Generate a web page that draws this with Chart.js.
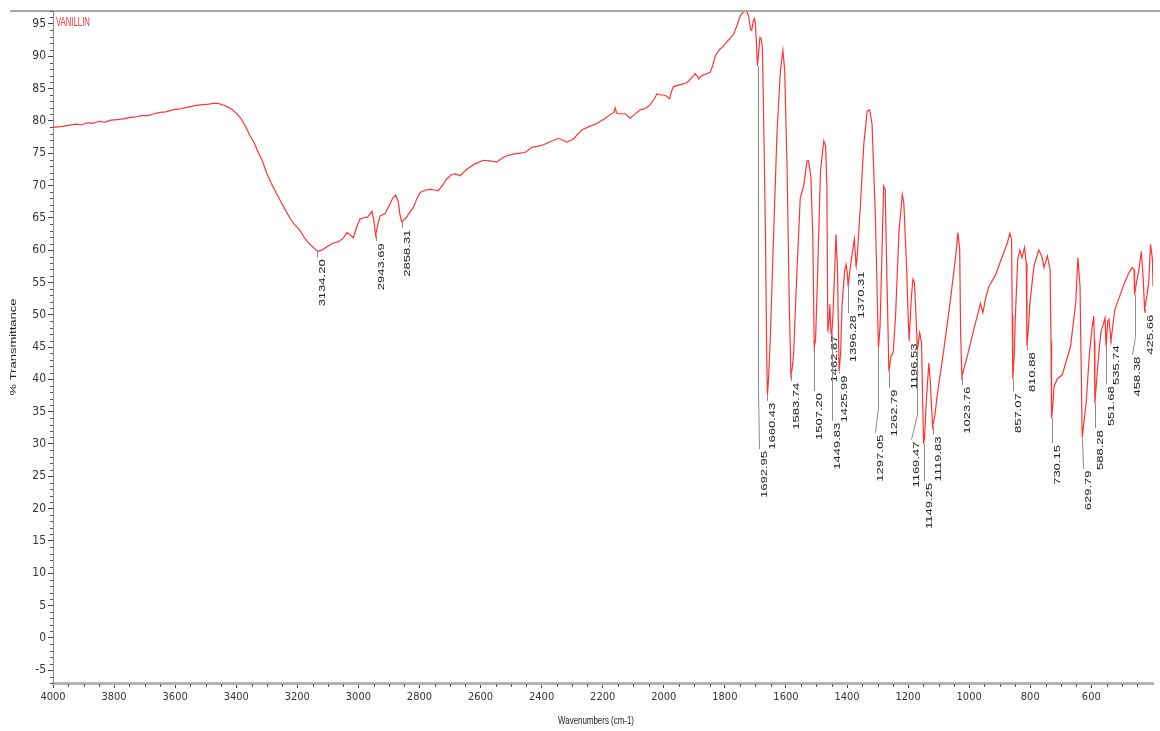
<!DOCTYPE html>
<html>
<head>
<meta charset="utf-8">
<title>Vanillin IR spectrum</title>
<script src="https://cdn.jsdelivr.net/npm/chart.js@4/dist/chart.umd.min.js"></script>
<style>
  html, body { margin: 0; padding: 0; background: #fff; }
  canvas { display: block; }
</style>
</head>
<body>
<canvas id="irChart" width="1160" height="731"></canvas>
<script>
// SPECTRUM DATA (wavenumber in cm-1, % transmittance)
const wavenumbers = [
  4000, 3975, 3950, 3925, 3905, 3890, 3870, 3850, 3830, 3810, 3790, 3770, 3750, 3730, 3710, 3690,
  3670, 3650, 3630, 3610, 3590, 3570, 3550, 3530, 3510, 3490, 3475, 3460, 3445, 3430, 3415, 3400,
  3385, 3370, 3355, 3340, 3328, 3315, 3301, 3285, 3270, 3255, 3240, 3225, 3210, 3191, 3175, 3159,
  3145, 3134.20, 3120, 3100, 3082, 3065, 3050, 3038, 3028, 3017, 3005, 2995, 2982, 2970, 2956, 2950,
  2943.69, 2937, 2929, 2913, 2900, 2888, 2878, 2870, 2864, 2858.31, 2850, 2842, 2830, 2820, 2808, 2798,
  2780, 2765, 2750, 2738, 2725, 2711, 2695, 2683, 2667, 2645, 2620, 2591, 2570, 2547, 2530, 2514,
  2490, 2470, 2454, 2432, 2410, 2394, 2370, 2345, 2330, 2317, 2296, 2280, 2268, 2245, 2219, 2195,
  2175, 2163, 2159, 2154, 2148, 2126, 2110, 2095, 2077, 2060, 2044, 2030, 2022, 2010, 2000, 1990,
  1981, 1975, 1968, 1945, 1924, 1910, 1897, 1890, 1886, 1878, 1870, 1848, 1840, 1831, 1818, 1804,
  1790, 1771, 1760, 1749, 1738, 1728, 1722, 1716, 1712, 1707, 1703, 1700, 1697, 1692.95, 1689, 1685,
  1681, 1677, 1673, 1667, 1663, 1660.43, 1657, 1651, 1640, 1629, 1618, 1610, 1604, 1596, 1589, 1583.74,
  1580, 1575, 1564, 1553, 1542, 1531, 1526, 1518, 1512, 1507.20, 1503, 1496, 1487, 1476, 1470, 1466,
  1462.87, 1459, 1456, 1453, 1449.83, 1446, 1441, 1436, 1431, 1425.99, 1421, 1416, 1408, 1403, 1399, 1396.28,
  1390, 1385, 1376, 1372, 1370.31, 1365, 1356, 1345, 1334, 1326, 1318, 1307, 1297.05, 1292, 1288, 1280,
  1275, 1269, 1262.79, 1256, 1249, 1241, 1230, 1219, 1214, 1205, 1200, 1196.53, 1189, 1184, 1179, 1173,
  1169.47, 1162, 1156, 1152, 1149.25, 1146, 1140, 1132, 1127, 1119.83, 1112, 1105, 1083, 1061, 1044, 1037,
  1031, 1028, 1023.76, 1018, 1006, 985, 963, 955, 946, 935, 913, 897, 875, 867, 861, 859,
  857.07, 852, 849, 841, 834, 827, 819, 813, 810.88, 806, 801, 788, 772, 762, 755, 744,
  735, 732, 730.15, 726, 722, 711, 695, 668, 651, 644, 637, 633, 629.79, 625, 617, 606,
  597, 592, 590, 588.28, 584, 577, 569, 555, 551.68, 546, 542, 535.74, 523, 509, 493, 477,
  466, 460, 458.38, 452, 444, 436, 430, 425.66, 418, 412, 406, 400, 398
];
const transmittance = [
  79.0, 79.1, 79.3, 79.5, 79.4, 79.7, 79.6, 79.9, 79.8, 80.1, 80.2, 80.3, 80.5, 80.6, 80.8, 80.8,
  81.1, 81.3, 81.4, 81.7, 81.8, 82.0, 82.2, 82.4, 82.5, 82.6, 82.7, 82.7, 82.5, 82.2, 81.8, 81.2,
  80.4, 79.2, 77.7, 76.5, 75.1, 73.9, 72.0, 70.3, 68.9, 67.6, 66.3, 65.0, 64.0, 63.0, 61.8, 60.9,
  60.3, 59.8, 60.0, 60.6, 61.1, 61.3, 61.8, 62.7, 62.4, 61.9, 63.6, 64.8, 65.0, 65.1, 66.0, 64.8,
  62.3, 63.8, 65.3, 65.6, 66.8, 68.0, 68.5, 67.6, 65.5, 64.4, 64.7, 65.1, 66.0, 66.6, 68.0, 68.9,
  69.3, 69.4, 69.3, 69.2, 70.0, 71.0, 71.7, 71.8, 71.5, 72.5, 73.3, 73.9, 73.8, 73.6, 74.2, 74.6,
  74.9, 75.0, 75.1, 75.9, 76.1, 76.3, 76.8, 77.3, 77.0, 76.7, 77.2, 78.0, 78.6, 79.1, 79.6, 80.3,
  81.0, 81.3, 82.0, 81.2, 81.1, 81.1, 80.4, 81.0, 81.7, 81.9, 82.5, 83.5, 84.2, 84.0, 84.0, 83.8,
  83.4, 84.5, 85.3, 85.6, 85.9, 86.6, 87.3, 86.9, 86.5, 86.9, 87.1, 87.5, 88.5, 90.1, 91.0, 91.6,
  92.4, 93.4, 94.8, 96.3, 96.9, 96.9, 96.2, 94.2, 94.0, 95.5, 95.8, 95.0, 92.4, 88.5, 90.8, 92.9,
  92.7, 91.4, 80.5, 62.4, 44.0, 37.6, 40.0, 46.5, 62.9, 78.4, 87.8, 90.9, 87.8, 72.2, 51.6, 40.7,
  41.5, 43.8, 56.7, 68.1, 69.9, 73.8, 73.8, 71.2, 62.0, 45.0, 46.0, 56.7, 72.2, 76.9, 76.0, 70.0,
  47.4, 49.0, 51.6, 47.5, 46.9, 50.0, 56.0, 62.4, 56.7, 41.2, 44.0, 51.6, 56.7, 57.8, 56.5, 54.4,
  57.0, 58.8, 61.7, 59.0, 57.3, 60.0, 67.1, 76.4, 81.5, 81.7, 79.5, 65.0, 44.9, 48.0, 54.9, 69.9,
  69.4, 54.9, 41.2, 43.6, 44.1, 49.8, 62.7, 68.6, 67.3, 57.5, 50.0, 46.0, 52.9, 55.5, 54.9, 48.7,
  44.6, 47.2, 45.6, 36.0, 30.0, 31.0, 36.9, 42.5, 39.4, 32.7, 34.5, 37.4, 44.6, 52.4, 59.1, 62.7,
  60.1, 47.2, 40.4, 41.5, 43.6, 47.7, 51.7, 50.3, 52.6, 54.4, 56.2, 58.3, 61.1, 62.6, 61.7, 50.0,
  40.0, 44.0, 49.3, 58.6, 60.0, 58.8, 60.4, 58.0, 45.1, 48.0, 51.8, 57.5, 60.0, 59.0, 57.3, 59.1,
  57.0, 46.0, 34.0, 36.0, 38.9, 40.1, 40.7, 45.1, 51.8, 58.8, 54.4, 41.5, 31.0, 33.0, 36.3, 44.1,
  48.2, 49.8, 46.0, 36.3, 39.0, 43.1, 47.2, 49.5, 45.1, 49.0, 49.3, 45.9, 50.8, 52.6, 54.7, 56.5,
  57.3, 57.0, 53.1, 55.0, 57.0, 59.8, 55.5, 50.9, 52.9, 55.0, 60.9, 58.6, 54.4
];

// labelled absorption bands and the % transmittance at the tip of each leader
const peakWavenumbers = [
  3134.20, 2943.69, 2858.31, 1692.95, 1660.43, 1583.74, 1507.20, 1462.87, 1449.83, 1425.99,
  1396.28, 1370.31, 1297.05, 1262.79, 1196.53, 1169.47, 1149.25, 1119.83, 1023.76, 857.07,
  810.88, 730.15, 629.79, 588.28, 551.68, 535.74, 458.38, 425.66
];
const peakTransmittance = [
  59.8, 62.3, 64.4, 88.5, 37.6, 40.7, 45.0, 47.4, 46.9, 41.2,
  54.4, 57.3, 44.9, 41.2, 46.0, 44.6, 30.0, 32.7, 40.4, 40.0,
  45.1, 34.0, 31.0, 36.3, 45.1, 45.9, 53.1, 50.9
];

const xTicks = [4000, 3800, 3600, 3400, 3200, 3000, 2800, 2600, 2400, 2200, 2000, 1800, 1600, 1400, 1200, 1000, 800, 600];
const yTicks = [-5, 0, 5, 10, 15, 20, 25, 30, 35, 40, 45, 50, 55, 60, 65, 70, 75, 80, 85, 90, 95];

// leader line shape for each label: [drop px, sideways shift px, slanted part px]
const leaderLayout = [
  [6, 0, 0], [6, 0, 0], [6, 0, 0], [383, 1, 60], [6, 0, 0], [6, 0, 0], [44, 0, 0], [2, 1, 2], [86, 0, 0], [2, 0, 0],
  [27, 0, 0], [2, 0, 0], [85, -3, 25], [16, 0, 0], [1, 0, 0], [90, -6, 25], [37, 0, 0], [8, 0, 0], [8, 0, 0], [12, 0, 0],
  [4, 0, 0], [25, 0, 0], [31, 1, 30], [25, 0, 0], [38, 0, 0], [2, 0, 0], [60, -3, 18], [4, 0, 0]
];

const SQUEEZE = 0.72;
const yTickFont = { family: "'Liberation Sans Narrow', 'DejaVu Sans Condensed', Arial, sans-serif", size: 12 };
const xTickFont = { family: "'Liberation Sans Narrow', 'DejaVu Sans Condensed', Arial, sans-serif", size: 11 };

function squeezed(ctx, text, x, y, sx, angle) {
  ctx.save();
  ctx.translate(x, y);
  if (angle) {
    ctx.rotate(angle);
    ctx.scale(1, sx);
  } else {
    ctx.scale(sx, 1);
  }
  ctx.fillText(text, 0, 0);
  ctx.restore();
}

// frame line, minor ticks, titles and the sample name
const framePlugin = {
  id: 'frame',
  afterDraw(chart) {
    const { ctx, chartArea: a, scales: { x, y } } = chart;
    ctx.save();
    ctx.strokeStyle = '#a8a8a8';
    ctx.lineWidth = 2;
    ctx.beginPath();
    ctx.moveTo(10, a.top);
    ctx.lineTo(chart.width, a.top);
    ctx.stroke();

    ctx.strokeStyle = '#555';
    ctx.lineWidth = 1;
    ctx.beginPath();
    for (let v = -7; v <= 97; v++) {
      if (v % 5 === 0) continue;
      const py = Math.round(y.getPixelForValue(v)) + 0.5;
      ctx.moveTo(a.left - 3, py);
      ctx.lineTo(a.left, py);
    }
    for (let v = 400; v <= 4000; v += 50) {
      if (v % 200 === 0) continue;
      const px = Math.round(x.getPixelForValue(v)) + 0.5;
      ctx.moveTo(px, a.bottom + 1);
      ctx.lineTo(px, a.bottom + 4);
    }
    ctx.stroke();

    ctx.fillStyle = '#222';
    ctx.font = "13px 'Liberation Sans', Arial, sans-serif";
    ctx.textAlign = 'center';
    ctx.textBaseline = 'middle';
    squeezed(ctx, '% Transmittance', 13, (a.top + a.bottom) / 2, SQUEEZE, -Math.PI / 2);
    ctx.font = "11px 'Liberation Sans', Arial, sans-serif";
    squeezed(ctx, 'Wavenumbers (cm-1)', 596, 721, SQUEEZE, 0);

    ctx.fillStyle = '#ff3030';
    ctx.font = "12.5px 'Liberation Sans', Arial, sans-serif";
    ctx.textAlign = 'left';
    squeezed(ctx, 'VANILLIN', a.left + 3, 23, 0.62, 0);
    ctx.restore();
  }
};

// peak position labels hanging below the bands
const peakLabelPlugin = {
  id: 'peakLabels',
  afterDatasetsDraw(chart) {
    const { ctx, scales: { x, y } } = chart;
    ctx.save();
    ctx.strokeStyle = '#8a8a8a';
    ctx.lineWidth = 1;
    ctx.fillStyle = '#222';
    ctx.font = "13px 'Liberation Sans', Arial, sans-serif";
    ctx.textAlign = 'right';
    ctx.textBaseline = 'middle';
    peakWavenumbers.forEach((wn, i) => {
      const [drop, shift, slant] = leaderLayout[i];
      const px = Math.round(x.getPixelForValue(wn)) + 0.5;
      const py = y.getPixelForValue(peakTransmittance[i]);
      const ex = px + shift, ey = py + drop;
      ctx.beginPath();
      ctx.moveTo(px, py);
      ctx.lineTo(px, ey - slant);
      ctx.lineTo(ex, ey);
      ctx.stroke();
      squeezed(ctx, wn.toFixed(2), ex + 5, ey + 2, SQUEEZE, -Math.PI / 2);
    });
    ctx.restore();
  }
};

const ctx = document.getElementById('irChart').getContext('2d');
const irChart = new Chart(ctx, {
  type: 'line',
  data: {
    datasets: [{
      label: 'VANILLIN',
      data: wavenumbers.map((w, i) => ({ x: w, y: transmittance[i] })),
      borderColor: 'rgba(255, 0, 0, 0.8)',
      borderWidth: 1.2,
      pointRadius: 0,
      tension: 0
    }]
  },
  options: {
    responsive: false,
    animation: false,
    layout: { padding: { top: 11, right: 7, left: 0, bottom: 0 } },
    plugins: { legend: { display: false }, tooltip: { enabled: false } },
    scales: {
      x: {
        type: 'linear',
        reverse: true,
        min: 398,
        max: 4000,
        afterFit: s => { s.height = 48; },
        afterBuildTicks: s => { s.ticks = xTicks.map(v => ({ value: v })); },
        grid: { drawOnChartArea: false, tickLength: 5, color: '#444' },
        border: { color: '#b4b4b4', width: 3 },
        ticks: { font: xTickFont, color: '#333', padding: 3, maxRotation: 0, autoSkip: false, callback: v => String(v) }
      },
      y: {
        min: -7,
        max: 97,
        afterFit: s => { s.width = 53; },
        afterBuildTicks: s => { s.ticks = yTicks.map(v => ({ value: v })); },
        grid: { drawOnChartArea: false, tickLength: 5, color: '#444' },
        border: { color: '#8a8a8a', width: 1 },
        ticks: { font: yTickFont, color: '#333', padding: 2, autoSkip: false, callback: v => String(v) }
      }
    }
  },
  plugins: [framePlugin, peakLabelPlugin]
});
</script>
</body>
</html>
